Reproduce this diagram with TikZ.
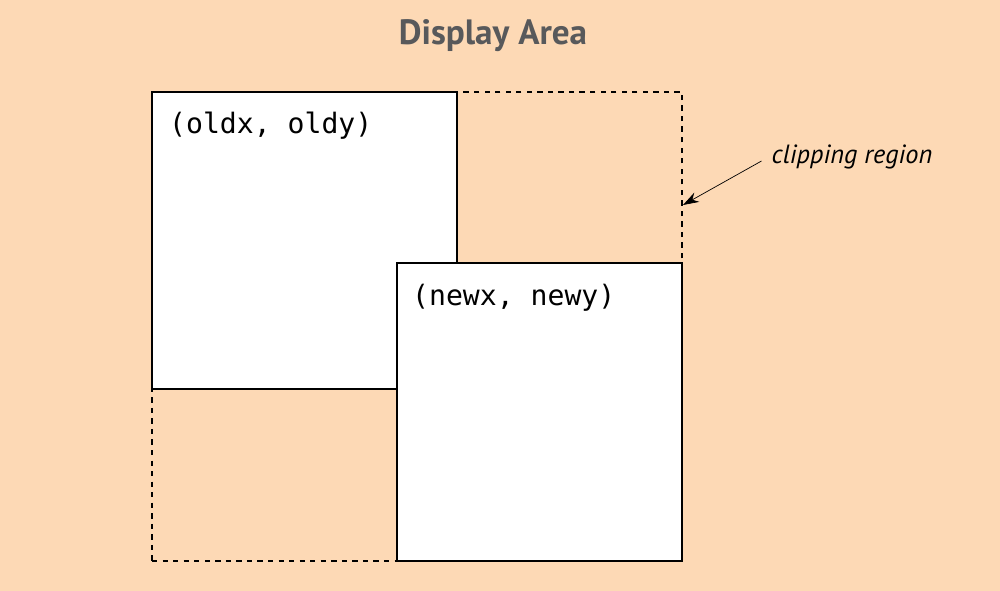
\documentclass[tikz,border=0pt]{standalone}
\usepackage{fontspec}
\setsansfont{PT Sans}
\setmonofont{DejaVu Sans Mono}
\usetikzlibrary{arrows.meta,positioning}
\definecolor{areabg}{HTML}{FDD9B5}
\definecolor{titlegray}{HTML}{58595B}
\begin{document}
\begin{tikzpicture}[x=0.02cm,y=-0.02cm,>={Stealth[length=9pt,width=6pt]},
    win/.style={draw,line width=1.2pt,fill=white,anchor=north west,inner sep=0pt},
    pos label/.style={font=\ttfamily\fontsize{16}{20}\selectfont,anchor=north west}]
  \fill[areabg] (0,0) rectangle (1000,591);
  \useasboundingbox (0,0) rectangle (1000,591);
  \node[font=\sffamily\bfseries\fontsize{20}{24}\selectfont,text=titlegray] (title) at (493,36) {Display Area};
  % clipping region
  \node[draw,line width=1.2pt,dashed,anchor=north west,minimum width=530*0.02cm,minimum height=469*0.02cm] (clip) at (151,91) {};
  \node[win,minimum width=305*0.02cm,minimum height=297*0.02cm] (old) at (151,91) {};
  \node[pos label] (oldlbl) at (163,106) {(oldx, oldy)};
  \node[win,minimum width=285*0.02cm,minimum height=298*0.02cm] (new) at (396,262) {};
  \node[pos label] (newlbl) at (406,278) {(newx, newy)};
  \node[font=\sffamily\itshape\fontsize{15}{18}\selectfont] (cliplbl) at (852,157) {clipping region};
  \coordinate (tip) at (683,205);
  \draw[->,thin] (cliplbl.west) ++(-4,4) -- (tip);
\end{tikzpicture}
\end{document}
